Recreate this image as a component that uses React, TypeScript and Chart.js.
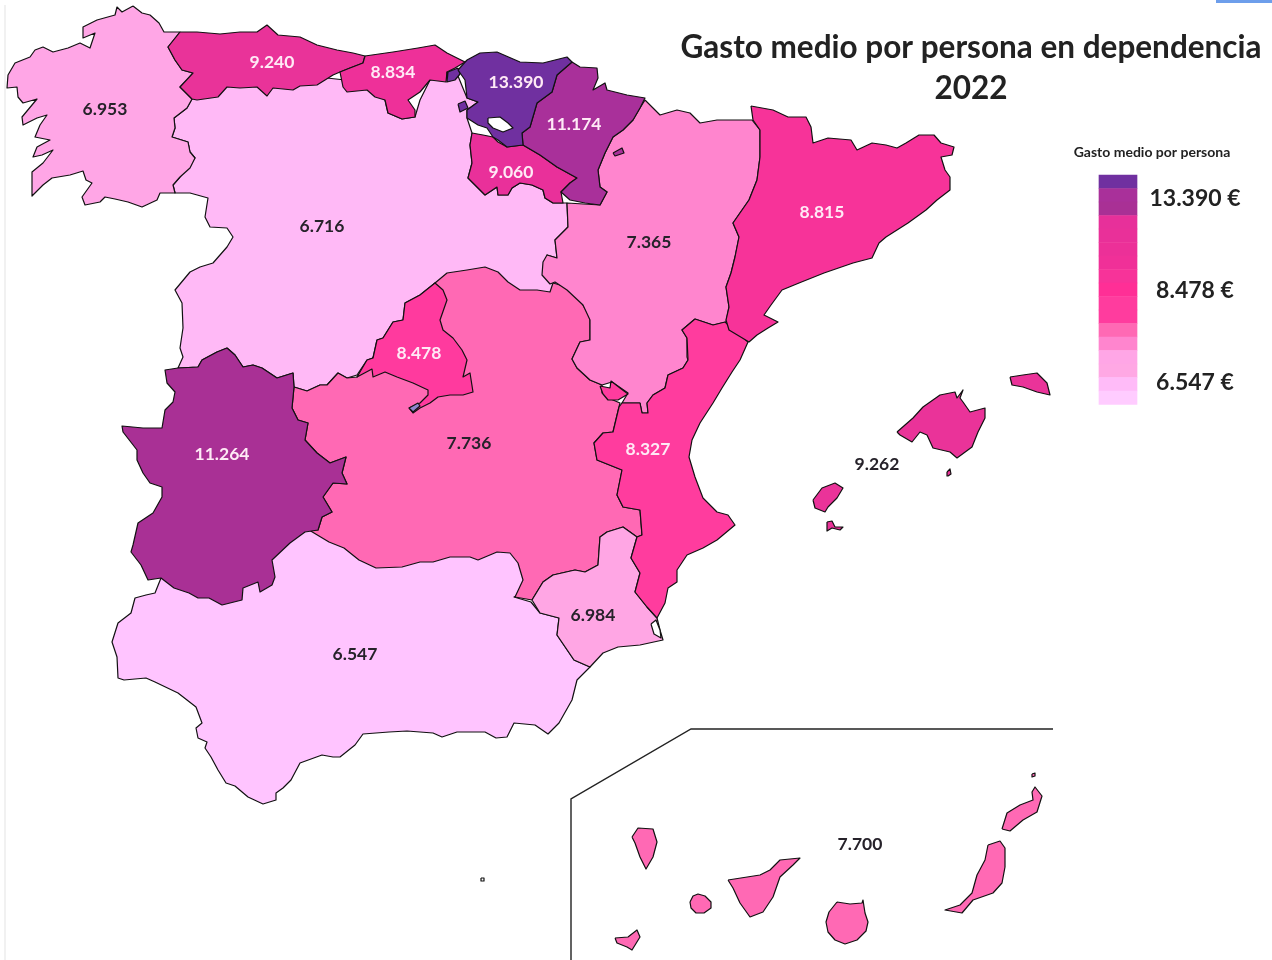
import React, { useEffect, useRef } from "react";
import { Chart, registerables } from "chart.js";

Chart.register(...registerables);

type P = number[];

// Region values and text
const titleLines = ["Gasto medio por persona en dependencia", "2022"];
const legendTitle = "Gasto medio por persona";
const legendTicks = ["13.390 €", "8.478 €", "6.547 €"];
const valueLabels = ["6.953", "9.240", "8.834", "13.390", "11.174", "9.060", "6.716", "7.365", "8.815", "8.478", "7.736", "8.327", "11.264", "6.547", "6.984", "9.262", "7.700"];
const labelX = [105, 272, 393, 516, 574, 511, 322, 649, 822, 419, 469, 648, 222, 355, 593, 877, 860];
const labelY = [109, 62, 72, 82, 124, 172, 226, 242, 212, 353, 443, 449, 454, 654, 615, 464, 844];
const labelDark = [1, 0, 0, 0, 0, 0, 1, 1, 0, 0, 1, 0, 0, 1, 1, 1, 1];

// Legend ramp
const legendColors = ["#7030A0", "#A9309A", "#A93095", "#E7309A", "#E93099", "#EC3098", "#F03098", "#F73399", "#FF2F96", "#FF3C9E", "#FF3C9E", "#FF69B4", "#FF85CE", "#FFA6E6", "#FFA8E4", "#FFBBF8", "#FFCCFF"];
const legendCenterX = [1118];
const legendTop = [175];
const legendStep = [13.5];

// Outlines
const cyl: P = [192,99,240,80,300,75,345,80,375,90,385,100,388,113,402,119,415,117,420,100,430,80,458,76,467,98,478,102,467,110,467,118,472,133,470,145,472,163,468,178,477,187,485,195,497,187,498,195,508,195,512,188,520,183,532,185,543,190,545,198,553,203,567,203,568,227,555,240,557,258,547,255,565,270,565,305,450,300,435,283,420,295,405,303,403,320,393,322,383,338,377,340,373,358,367,360,357,375,347,378,338,373,327,385,320,385,307,391,294,387,293,373,277,378,262,368,253,365,243,367,235,355,227,348,217,352,202,360,198,367,178,368,183,357,180,348,183,328,182,303,175,290,190,272,200,267,213,263,227,247,233,237,227,228,210,227,205,217,208,198,190,193,175,193,173,185,180,177,195,158,190,152,188,142,172,137,175,128,174,118,187,108];
const galicia: P = [133,6,142,13,150,15,159,23,164,32,180,32,168,47,175,60,182,70,193,73,187,80,180,87,192,99,187,108,174,118,175,128,172,137,188,142,190,152,195,158,190,168,180,177,173,185,175,193,160,193,157,200,142,207,128,202,115,199,105,197,100,202,85,205,82,197,92,183,86,180,83,171,70,175,52,178,43,185,32,196,32,172,43,163,53,150,42,155,33,157,37,147,50,140,35,137,40,125,47,115,37,118,23,125,22,117,37,99,23,103,18,97,17,87,7,88,8,75,15,63,30,57,35,50,43,47,53,52,68,48,80,43,90,48,95,33,83,38,83,27,97,20,115,15,117,7,122,12];
const asturias: P = [180,32,197,32,220,34,240,32,257,32,267,25,278,35,300,37,317,45,337,50,353,53,365,56,363,63,350,68,340,72,333,75,325,80,317,85,300,86,293,90,273,88,267,96,257,87,240,88,227,87,218,97,197,100,192,99,180,87,193,73,182,70,175,60,168,47];
const cantabria: P = [365,56,393,52,418,48,435,45,447,53,465,62,455,68,447,72,446,82,430,80,420,92,408,100,415,110,415,117,402,119,388,113,385,100,375,97,367,90,347,92,343,87,340,72,350,68,363,63];
const basque: P = [467,60,480,53,497,52,520,62,543,63,567,57,572,62,557,75,552,92,537,103,530,127,522,133,523,145,507,147,498,140,493,137,487,128,478,125,467,118,467,110,478,102,467,98,465,80,458,70];
const basqueWest: P = [458,68,448,72,447,82,455,80,460,74];
const basqueEnclave: P = [458,104,465,101,468,108,460,112];
const trevino: P = [488,118,500,117,508,123,513,128,503,132,493,128,488,123];
const navarra: P = [572,62,580,67,597,68,598,78,593,90,605,83,607,90,627,95,645,98,640,108,633,120,623,130,613,137,605,153,598,170,600,187,607,192,600,205,585,203,570,200,561,192,570,183,577,178,557,167,540,155,523,145,522,133,530,127,537,103,552,92,557,75];
const petilla: P = [613,153,622,148,624,153,615,156];
const rioja: P = [472,133,483,135,493,137,498,142,507,147,523,145,540,155,557,167,577,178,570,183,561,192,563,203,553,203,545,198,543,190,532,185,520,183,512,188,508,195,498,195,497,187,485,195,477,187,468,178,472,163,470,145];
const aragon: P = [645,100,660,115,677,110,690,113,700,123,717,120,752,120,760,130,760,157,757,180,749,200,733,223,739,237,735,257,731,273,726,287,729,307,726,322,713,325,695,319,682,330,687,338,687,357,688,360,683,368,668,375,665,388,653,395,647,403,648,413,642,413,640,403,622,403,628,393,612,382,602,385,590,380,577,368,572,359,580,342,590,340,590,320,583,305,567,290,555,282,550,284,542,275,543,262,547,255,557,258,555,240,568,227,567,203,600,205,607,192,600,187,598,170,605,153,613,137,623,130,633,120,640,108];
const catalonia: P = [751,106,773,110,788,117,806,117,811,127,813,143,828,138,851,140,857,150,872,143,886,145,897,148,906,143,919,135,934,135,941,143,954,147,952,155,941,157,945,170,950,177,950,190,937,200,926,210,908,223,886,237,879,243,872,258,853,263,824,273,799,283,782,290,771,305,764,315,778,322,768,328,757,335,749,342,729,330,726,320,729,307,726,287,731,273,735,257,739,237,733,223,749,200,757,180,760,157,760,130,753,120];
const valencia: P = [695,319,713,325,725,322,748,342,740,360,732,372,722,388,713,403,700,423,692,440,689,457,695,477,703,498,717,512,728,515,735,525,717,540,703,548,687,555,677,570,677,582,668,588,665,603,657,618,647,607,635,592,640,573,631,558,637,537,642,535,640,510,623,507,617,495,622,470,597,460,594,443,603,433,613,432,619,407,622,403,640,403,642,413,648,413,647,403,653,395,665,388,668,375,683,368,688,360,687,338,682,330];
const ademuz: P = [600,386,610,388,611,381,620,388,628,394,618,400,608,400,603,394];
const clm: P = [435,283,447,273,467,270,485,267,498,272,508,282,520,290,537,290,550,292,553,283,567,287,580,300,590,317,590,340,580,342,572,359,577,368,590,380,602,385,602,393,613,400,620,403,619,407,613,432,603,433,594,443,597,460,622,470,617,495,623,507,640,510,642,535,637,537,623,527,607,532,600,537,598,565,585,572,575,570,553,575,543,582,532,600,515,597,523,580,518,563,510,553,497,552,478,560,470,557,450,557,433,562,420,562,402,567,376,568,359,560,344,548,329,542,309,530,318,530,322,517,332,512,323,497,333,483,347,484,342,473,346,457,330,463,317,453,305,440,308,423,298,420,292,408,294,387,307,391,320,385,327,385,338,373,347,378,357,377];
const madrid: P = [435,283,443,290,447,300,440,320,443,330,453,338,462,350,467,360,463,377,470,373,473,392,463,395,450,395,438,397,430,403,420,408,413,413,409,408,420,403,428,395,428,390,413,383,397,377,385,372,373,377,372,369,357,377,367,360,373,358,377,340,383,338,393,322,403,320,405,303,420,295];
const reservoir: P = [409,408,418,403,420,406,413,412];
const extremadura: P = [227,348,235,355,243,367,253,365,262,368,277,378,293,373,294,387,292,408,298,420,308,423,305,440,317,453,330,463,346,457,342,473,347,484,333,483,323,497,332,512,322,517,318,530,305,532,290,543,272,560,275,577,272,585,260,592,258,582,243,588,242,600,222,605,209,598,198,598,189,593,174,588,161,578,148,580,141,565,131,552,133,545,138,523,153,513,162,497,162,487,150,483,143,473,137,460,137,450,123,432,122,426,143,428,162,428,165,410,173,402,175,392,167,383,165,370,178,368,198,367,202,360,217,352];
const andalucia: P = [309,520,340,530,380,545,420,545,470,540,530,545,530,590,514,597,531,602,540,613,559,618,557,635,574,660,590,667,577,680,572,700,559,723,548,734,535,725,514,723,507,737,496,738,485,732,457,732,442,737,433,733,407,731,389,732,363,734,355,745,340,757,333,757,322,755,300,763,291,780,283,788,276,793,276,800,263,804,248,797,235,786,226,783,218,770,211,757,205,748,207,742,198,738,196,728,202,723,196,707,178,693,155,682,146,678,124,680,118,678,117,657,112,642,118,623,131,613,135,598,146,595,155,593,161,578,220,590];
const murcia: P = [532,600,543,582,553,575,575,570,585,572,598,565,600,537,607,532,623,527,637,537,631,558,640,573,635,592,647,607,657,618,660,630,663,640,640,645,618,647,603,653,590,667,574,660,557,635,559,618,540,613];
const marMenor: P = [651,624,656,620,660,630,661,638,654,634];
const mallorca: P = [897,432,913,418,923,407,940,395,955,392,957,398,963,390,960,398,963,402,970,412,985,408,985,418,978,432,972,447,957,458,950,452,933,448,927,435,920,432,912,442,900,435];
const menorca: P = [1010,377,1023,375,1037,373,1047,383,1050,395,1037,392,1023,387,1012,385];
const ibiza: P = [813,500,822,488,835,483,843,488,837,498,828,507,825,512,815,508];
const formentera: P = [827,522,832,521,835,527,843,527,840,530,832,528,827,531];
const cabrera: P = [947,472,950,469,951,474,948,476];
const laPalma: P = [632,837,638,828,653,829,657,842,653,857,646,869,640,857,635,843];
const tenerife: P = [728,880,760,875,770,870,780,860,800,858,793,865,780,877,773,897,763,912,750,917,740,903,733,888];
const gomera: P = [690,902,693,896,698,894,705,896,711,902,711,908,704,913,696,913,691,908];
const hierro: P = [615,938,628,937,637,930,640,937,632,950,627,947,617,943];
const granCanaria: P = [837,902,850,904,862,903,863,900,865,913,868,922,866,931,857,940,845,944,835,940,828,932,826,922,829,912];
const fuerteventura: P = [988,845,1000,841,1005,848,1005,867,1002,883,993,893,973,900,962,913,945,910,960,905,972,893,977,875,985,860];
const lanzarote: P = [1002,829,1007,813,1020,805,1033,800,1032,792,1035,787,1042,796,1037,812,1023,820,1010,831];
const alegranza: P = [1032,774,1035,773,1035,776,1032,777];
const alboran: P = [481,878,484,878,484,881,481,881];
const insetFrame: P = [571,960,571,799,691,729,1053,729];
const pageEdge: P = [5,5,5,960];
const cornerMark: P = [1216,0,1272,0,1272,3,1216,3];

const OUTLINE = "#111111";
const shapes: [P, string][] = [
  [cyl, "#FFB9F6"], [andalucia, "#FFC4FF"], [clm, "#FF69B4"], [aragon, "#FF85CE"], [galicia, "#FFA6E6"],
  [extremadura, "#A93095"], [murcia, "#FFA6E4"], [valencia, "#FF3C9E"], [catalonia, "#F73399"], [madrid, "#FF3A9E"],
  [asturias, "#E93399"], [cantabria, "#EE3099"], [rioja, "#E9309A"], [navarra, "#A9309A"], [basqueWest, "#7030A0"],
  [basque, "#7030A0"], [basqueEnclave, "#7030A0"], [trevino, "#FFFFFF"], [petilla, "#A9309A"], [ademuz, "#FF3C9E"],
  [marMenor, "#FFFFFF"], [reservoir, "#8E86CC"], [mallorca, "#EA3399"], [menorca, "#EA3399"], [ibiza, "#EA3399"],
  [formentera, "#EA3399"], [cabrera, "#EA3399"], [laPalma, "#FF69B4"], [tenerife, "#FF69B4"], [gomera, "#FF69B4"],
  [hierro, "#FF69B4"], [granCanaria, "#FF69B4"], [fuerteventura, "#FF69B4"], [lanzarote, "#FF69B4"], [alegranza, "#FF69B4"],
  [alboran, "#FFFFFF"],
];

const toPoints = (p: P, close: boolean) => {
  const out: { x: number; y: number }[] = [];
  for (let i = 0; i < p.length; i += 2) out.push({ x: p[i], y: p[i + 1] });
  if (close) out.push({ x: p[0], y: p[1] });
  return out;
};

const FONT = "Lato, 'Open Sans', sans-serif";

const textPlugin = {
  id: "mapText",
  afterDatasetsDraw(chart: any) {
    const { ctx, scales } = chart;
    const X = (v: number) => scales.x.getPixelForValue(v);
    const Y = (v: number) => scales.y.getPixelForValue(v);
    ctx.save();
    ctx.textAlign = "center";
    ctx.textBaseline = "middle";
    valueLabels.forEach((t, i) => {
      ctx.font = `bold 17.5px ${FONT}`;
      ctx.fillStyle = labelDark[i] ? "#26222a" : "#FFEAF6";
      ctx.fillText(t, X(labelX[i]), Y(labelY[i]));
    });
    ctx.fillStyle = "#222222";
    ctx.font = `bold 31.5px ${FONT}`;
    ctx.fillText(titleLines[0], X(971), Y(48));
    ctx.fillText(titleLines[1], X(971), Y(89));
    ctx.font = `bold 14px ${FONT}`;
    ctx.fillText(legendTitle, X(1152), Y(152));
    ctx.font = `bold 23px ${FONT}`;
    ctx.fillText(legendTicks[0], X(1195), Y(199));
    ctx.fillText(legendTicks[1], X(1195), Y(291));
    ctx.fillText(legendTicks[2], X(1195), Y(383));
    ctx.restore();
  },
};

export default function App() {
  const ref = useRef<HTMLCanvasElement>(null);
  useEffect(() => {
    document.body.style.margin = "0";
    const n = shapes.length;
    const datasets: any[] = shapes.map(([p, color], i) => ({
      type: "scatter",
      data: toPoints(p, true),
      showLine: true,
      fill: "shape",
      backgroundColor: color,
      borderColor: OUTLINE,
      borderWidth: 1.2,
      borderJoinStyle: "round",
      tension: 0,
      pointRadius: 0,
      order: n - i + 5,
    }));
    datasets.push({
      type: "scatter",
      data: toPoints(insetFrame, false),
      showLine: true,
      fill: false,
      borderColor: "#222222",
      borderWidth: 1.4,
      pointRadius: 0,
      order: 3,
    });
    datasets.push({
      type: "scatter",
      data: toPoints(pageEdge, false),
      showLine: true,
      fill: false,
      borderColor: "#EFEFEF",
      borderWidth: 1,
      pointRadius: 0,
      order: 4,
    });
    datasets.push({
      type: "scatter",
      data: toPoints(cornerMark, true),
      showLine: true,
      fill: "shape",
      backgroundColor: "#6D9EEB",
      borderColor: "#6D9EEB",
      borderWidth: 0,
      pointRadius: 0,
      order: 2,
    });
    datasets.push({
      type: "bar",
      data: legendColors.map((_, i) => ({
        x: legendCenterX[0],
        y: [legendTop[0] + i * legendStep[0], legendTop[0] + (i + 1) * legendStep[0]],
      })),
      backgroundColor: legendColors,
      borderWidth: 0,
      borderSkipped: false,
      barThickness: 38,
      order: 1,
    });
    const chart = new Chart(ref.current as HTMLCanvasElement, {
      type: "scatter",
      data: { datasets },
      plugins: [textPlugin],
      options: {
        animation: false,
        responsive: false,
        layout: { padding: 0 },
        plugins: { legend: { display: false }, tooltip: { enabled: false } },
        scales: {
          x: { type: "linear", min: 0, max: 1272, display: false, offset: false },
          y: { type: "linear", min: 0, max: 960, reverse: true, display: false },
        },
      },
    } as any);
    return () => chart.destroy();
  }, []);
  return <canvas ref={ref} width={1272} height={960} style={{ display: "block", width: 1272, height: 960, filter: "blur(0.4px)" }} />;
}
